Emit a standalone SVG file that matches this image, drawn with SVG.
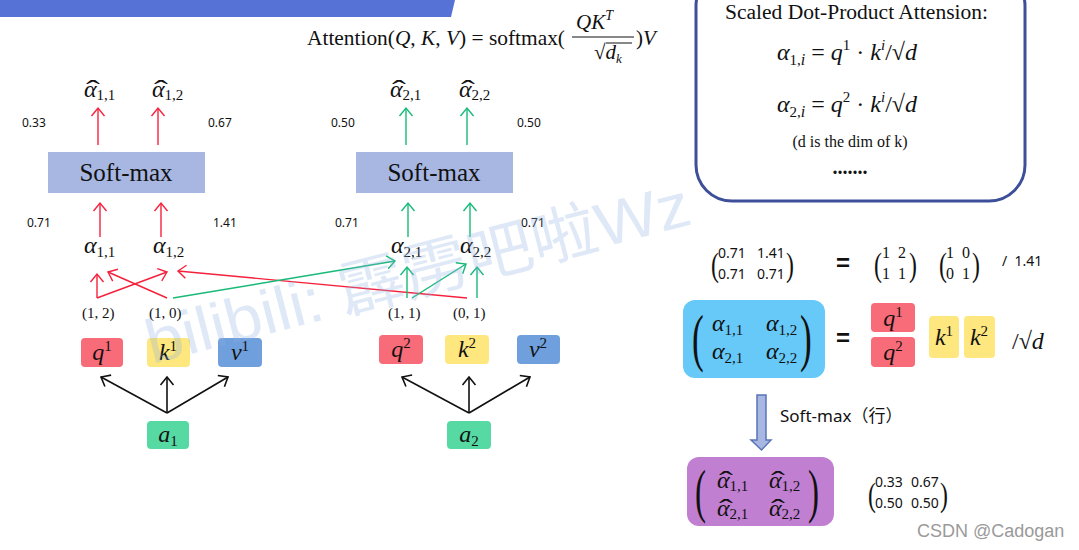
<svg xmlns="http://www.w3.org/2000/svg" width="1079" height="550" viewBox="0 0 1079 550">
<style>
.mi{font-family:"Liberation Serif","DejaVu Serif",serif;font-style:italic;font-size:24px;fill:#111}
.sub{font-style:normal;font-size:15px}
.sup{font-style:normal;font-size:15px}
.hat{font-family:"Liberation Serif","DejaVu Serif",serif;font-size:26px;fill:#111;text-anchor:middle}
.num{font-family:"Noto Sans","Liberation Sans",sans-serif;font-size:12px;fill:#111}
.tup{font-family:"Liberation Serif",serif;font-size:15px;fill:#111}
.r{stroke:#f5213c;stroke-width:1.4;fill:none}
.g{stroke:#17b978;stroke-width:1.4;fill:none}
.k{stroke:#111;stroke-width:1.6;fill:none}
.sm{fill:#a7b7e1}
.smt{font-family:"Liberation Serif",serif;font-size:25px;fill:#111;text-anchor:middle}
.q{fill:#f86b78}.kk{fill:#fde77e}.v{fill:#6fa0dd}.a{fill:#57d9a3}
.ser{font-family:"Liberation Serif",serif;fill:#111}
.mat{font-family:"Noto Sans","Liberation Sans",sans-serif;font-size:14px;fill:#111}
.par{font-family:"Liberation Serif",serif;fill:#111}
.sans{font-family:"Noto Sans","Liberation Sans","Noto Sans CJK SC",sans-serif}
.wm{font-family:"Liberation Sans","Noto Sans CJK SC",sans-serif}
</style>
<defs>
<marker id="ar" markerUnits="userSpaceOnUse" markerWidth="16" markerHeight="16" refX="9" refY="8" orient="auto"><path d="M1,1.5 L9,8 L1,14.5" fill="none" stroke="#f5213c" stroke-width="1.4"/></marker>
<marker id="ag" markerUnits="userSpaceOnUse" markerWidth="16" markerHeight="16" refX="9" refY="8" orient="auto"><path d="M1,1.5 L9,8 L1,14.5" fill="none" stroke="#17b978" stroke-width="1.4"/></marker>
<marker id="ak" markerUnits="userSpaceOnUse" markerWidth="16" markerHeight="16" refX="9" refY="8" orient="auto"><path d="M1,1.5 L9,8 L1,14.5" fill="none" stroke="#111" stroke-width="1.6"/></marker>
</defs>
<rect width="1079" height="550" fill="#ffffff"/>
<polygon points="0,0 455,0 451,17 0,17" fill="#5672d6"/>

<g id="formula">
<text class="ser" x="307" y="45" font-size="21" textLength="258" lengthAdjust="spacingAndGlyphs">Attention(<tspan font-style="italic">Q</tspan>, <tspan font-style="italic">K</tspan>, <tspan font-style="italic">V</tspan>) = softmax(</text>
<text class="ser" x="576" y="29" font-size="21" font-style="italic">QK<tspan font-size="14" font-style="italic" dy="-9">T</tspan></text>
<line x1="572" y1="37" x2="634" y2="37" stroke="#111" stroke-width="1"/>
<text class="ser" x="594" y="59" font-size="21">√<tspan font-style="italic">d</tspan><tspan font-size="13" font-style="italic" dy="4">k</tspan></text>
<line x1="606" y1="43" x2="632" y2="43" stroke="#111" stroke-width="1"/>
<text class="ser" x="636" y="45" font-size="21">)<tspan font-style="italic">V</tspan></text>
</g>

<g id="scaled-box">
<rect x="696" y="-30" width="329" height="231" rx="36" fill="#fff" stroke="#3d4f98" stroke-width="3"/>
<text class="ser" x="725" y="19" font-size="20" textLength="263" lengthAdjust="spacingAndGlyphs">Scaled Dot-Product Attension:</text>
<text class="mi" x="777" y="60" font-size="26">α<tspan class="sub" font-size="16" dy="5">1,</tspan><tspan font-size="16" font-style="italic">i</tspan><tspan dy="-5" font-style="normal"> = </tspan>q<tspan font-size="15" font-style="normal" dy="-10">1</tspan><tspan dy="10" font-style="normal"> · </tspan>k<tspan font-size="15" dy="-10">i</tspan><tspan dy="10" font-style="normal">/√</tspan>d</text>
<text class="mi" x="777" y="112" font-size="26">α<tspan class="sub" font-size="16" dy="5">2,</tspan><tspan font-size="16" font-style="italic">i</tspan><tspan dy="-5" font-style="normal"> = </tspan>q<tspan font-size="15" font-style="normal" dy="-10">2</tspan><tspan dy="10" font-style="normal"> · </tspan>k<tspan font-size="15" dy="-10">i</tspan><tspan dy="10" font-style="normal">/√</tspan>d</text>
<text class="ser" x="850" y="147" font-size="16" text-anchor="middle">(d is the dim of k)</text>
<text class="ser" x="850" y="174" font-size="20" text-anchor="middle" font-weight="bold">.......</text>
</g>

<g id="connectors">
<line class="r" x1="98" y1="145" x2="98" y2="108" marker-end="url(#ar)"/>
<line class="r" x1="158" y1="145" x2="158" y2="108" marker-end="url(#ar)"/>
<line class="g" x1="406" y1="145" x2="406" y2="108" marker-end="url(#ag)"/>
<line class="g" x1="467" y1="145" x2="467" y2="108" marker-end="url(#ag)"/>
<line class="r" x1="100" y1="237" x2="100" y2="203" marker-end="url(#ar)"/>
<line class="r" x1="161" y1="237" x2="161" y2="203" marker-end="url(#ar)"/>
<line class="g" x1="408" y1="237" x2="408" y2="203" marker-end="url(#ag)"/>
<line class="g" x1="470" y1="237" x2="470" y2="203" marker-end="url(#ag)"/>
<line class="r" x1="97" y1="298" x2="97" y2="274" marker-end="url(#ar)"/>
<line class="r" x1="97" y1="298" x2="167" y2="272" marker-end="url(#ar)"/>
<line class="r" x1="167" y1="298" x2="108" y2="272" marker-end="url(#ar)"/>
<line class="r" x1="467" y1="298" x2="178" y2="271" marker-end="url(#ar)"/>
<line class="g" x1="173" y1="298" x2="395" y2="261" marker-end="url(#ag)"/>
<line class="g" x1="407" y1="298" x2="407" y2="267" marker-end="url(#ag)"/>
<line class="g" x1="412" y1="298" x2="466" y2="264" marker-end="url(#ag)"/>
<line class="g" x1="477" y1="298" x2="477" y2="267" marker-end="url(#ag)"/>
<line class="k" x1="167" y1="413" x2="101" y2="377" marker-end="url(#ak)"/>
<line class="k" x1="167" y1="413" x2="167" y2="377" marker-end="url(#ak)"/>
<line class="k" x1="167" y1="413" x2="228" y2="377" marker-end="url(#ak)"/>
<line class="k" x1="469" y1="413" x2="402" y2="377" marker-end="url(#ak)"/>
<line class="k" x1="469" y1="413" x2="469" y2="377" marker-end="url(#ak)"/>
<line class="k" x1="469" y1="413" x2="530" y2="377" marker-end="url(#ak)"/>
</g>

<g id="hat-alpha-1">
<text class="mi" x="84" y="97">α<tspan class="sub" dy="3">1,1</tspan></text>
<text class="hat" transform="translate(93,98) scale(1.6,1)">ˆ</text>
<text class="mi" x="152" y="97">α<tspan class="sub" dy="3">1,2</tspan></text>
<text class="hat" transform="translate(161,98) scale(1.6,1)">ˆ</text>
<text class="num" x="22" y="127">0.33</text>
<text class="num" x="208" y="127">0.67</text>
</g>
<g id="hat-alpha-2">
<text class="mi" x="390" y="97">α<tspan class="sub" dy="3">2,1</tspan></text>
<text class="hat" transform="translate(399,98) scale(1.6,1)">ˆ</text>
<text class="mi" x="459" y="97">α<tspan class="sub" dy="3">2,2</tspan></text>
<text class="hat" transform="translate(468,98) scale(1.6,1)">ˆ</text>
<text class="num" x="331" y="127">0.50</text>
<text class="num" x="517" y="127">0.50</text>
</g>
<g id="softmax-1"><rect class="sm" x="48" y="152" width="157" height="41"/><text class="smt" x="126" y="181">Soft-max</text></g>
<g id="softmax-2"><rect class="sm" x="356" y="152" width="157" height="41"/><text class="smt" x="434" y="181">Soft-max</text></g>

<g id="alpha-1">
<text class="num" x="27" y="227">0.71</text>
<text class="num" x="213" y="227">1.41</text>
<text class="mi" x="84" y="253">α<tspan class="sub" dy="4">1,1</tspan></text>
<text class="mi" x="153" y="253">α<tspan class="sub" dy="4">1,2</tspan></text>
</g>
<g id="alpha-2">
<text class="num" x="335" y="227">0.71</text>
<text class="num" x="521" y="227">0.71</text>
<text class="mi" x="391" y="253">α<tspan class="sub" dy="4">2,1</tspan></text>
<text class="mi" x="460" y="253">α<tspan class="sub" dy="4">2,2</tspan></text>
</g>
<g id="tuples">
<text class="tup" x="82" y="318">(1, 2)</text>
<text class="tup" x="149" y="318">(1, 0)</text>
<text class="tup" x="388" y="318">(1, 1)</text>
<text class="tup" x="453" y="318">(0, 1)</text>
</g>

<g id="q1"><rect class="q" x="81" y="338" width="42" height="29" rx="4"/><text class="mi" x="102" y="360" text-anchor="middle">q<tspan class="sup" dy="-9">1</tspan></text></g>
<g id="k1"><rect class="kk" x="147" y="338" width="43" height="29" rx="4"/><text class="mi" x="168" y="360" text-anchor="middle">k<tspan class="sup" dy="-9">1</tspan></text></g>
<g id="v1"><rect class="v" x="218" y="338" width="44" height="29" rx="4"/><text class="mi" x="240" y="360" text-anchor="middle">v<tspan class="sup" dy="-9">1</tspan></text></g>
<g id="a1"><rect class="a" x="147" y="421" width="42" height="28" rx="4"/><text class="mi" x="168" y="442" text-anchor="middle">a<tspan class="sub" dy="4">1</tspan></text></g>
<g id="q2"><rect class="q" x="379" y="335" width="44" height="29" rx="4"/><text class="mi" x="401" y="357" text-anchor="middle">q<tspan class="sup" dy="-9">2</tspan></text></g>
<g id="k2"><rect class="kk" x="445" y="335" width="44" height="29" rx="4"/><text class="mi" x="467" y="357" text-anchor="middle">k<tspan class="sup" dy="-9">2</tspan></text></g>
<g id="v2"><rect class="v" x="517" y="335" width="43" height="29" rx="4"/><text class="mi" x="538" y="357" text-anchor="middle">v<tspan class="sup" dy="-9">2</tspan></text></g>
<g id="a2"><rect class="a" x="447" y="421" width="44" height="28" rx="4"/><text class="mi" x="469" y="442" text-anchor="middle">a<tspan class="sub" dy="4">2</tspan></text></g>

<g id="numeric-eq">
<text class="par" x="711" y="276" font-size="34" transform="translate(711,276) scale(0.7,1) translate(-711,-276)">(</text>
<text class="mat" x="718" y="258">0.71</text><text class="mat" x="757" y="258">1.41</text>
<text class="mat" x="718" y="279">0.71</text><text class="mat" x="757" y="279">0.71</text>
<text class="par" x="786" y="276" font-size="34" transform="translate(786,276) scale(0.7,1) translate(-786,-276)">)</text>
<text x="836" y="271" font-family="Liberation Sans" font-size="24" font-weight="bold" fill="#111">=</text>
<text class="par" x="874" y="276" font-size="34" transform="translate(874,276) scale(0.7,1) translate(-874,-276)">(</text>
<text class="ser" x="882" y="258" font-size="16">1</text><text class="ser" x="898" y="258" font-size="16">2</text>
<text class="ser" x="882" y="279" font-size="16">1</text><text class="ser" x="898" y="279" font-size="16">1</text>
<text class="par" x="909" y="276" font-size="34" transform="translate(909,276) scale(0.7,1) translate(-909,-276)">)</text>
<text class="par" x="939" y="276" font-size="34" transform="translate(939,276) scale(0.7,1) translate(-939,-276)">(</text>
<text class="ser" x="946" y="258" font-size="16">1</text><text class="ser" x="962" y="258" font-size="16">0</text>
<text class="ser" x="946" y="279" font-size="16">0</text><text class="ser" x="962" y="279" font-size="16">1</text>
<text class="par" x="972" y="276" font-size="34" transform="translate(972,276) scale(0.7,1) translate(-972,-276)">)</text>
<text class="mat" x="1002" y="266" font-size="14" xml:space="preserve">/  1.41</text>
</g>

<g id="alpha-matrix">
<rect x="683" y="300" width="142" height="78" rx="12" fill="#66c9f7"/>
<text class="par" x="692" y="359" font-size="64" transform="translate(692,359) scale(0.55,1) translate(-692,-359)">(</text>
<text class="mi" x="712" y="331">α<tspan class="sub" dy="4">1,1</tspan></text>
<text class="mi" x="766" y="331">α<tspan class="sub" dy="4">1,2</tspan></text>
<text class="mi" x="712" y="359">α<tspan class="sub" dy="4">2,1</tspan></text>
<text class="mi" x="766" y="359">α<tspan class="sub" dy="4">2,2</tspan></text>
<text class="par" x="800" y="359" font-size="64" transform="translate(800,359) scale(0.55,1) translate(-800,-359)">)</text>
</g>
<text x="836" y="346" font-family="Liberation Sans" font-size="24" font-weight="bold" fill="#111">=</text>
<g id="q-stack">
<rect class="q" x="871" y="303" width="44" height="29" rx="4"/><text class="mi" x="893" y="326" text-anchor="middle">q<tspan class="sup" dy="-9">1</tspan></text>
<rect class="q" x="871" y="337" width="44" height="30" rx="4"/><text class="mi" x="893" y="360" text-anchor="middle">q<tspan class="sup" dy="-9">2</tspan></text>
</g>
<g id="k-row">
<rect class="kk" x="929" y="316" width="30" height="42" rx="4"/><text class="mi" x="944" y="345" text-anchor="middle">k<tspan class="sup" dy="-9">1</tspan></text>
<rect class="kk" x="964" y="316" width="31" height="42" rx="4"/><text class="mi" x="979" y="345" text-anchor="middle">k<tspan class="sup" dy="-9">2</tspan></text>
</g>
<text class="mi" x="1012" y="349" font-size="26"><tspan font-style="normal">/√</tspan>d</text>

<g id="softmax-row-arrow">
<path d="M757,395 L766,395 L766,440 L771,440 L761.5,450 L751,440 L757,440 Z" fill="#a7b7e1" stroke="#5b74b8" stroke-width="1.5"/>
<text class="sans" x="780" y="422" font-size="17" fill="#111">Soft-max（行）</text>
</g>

<g id="hat-matrix">
<rect x="687" y="457" width="147" height="69" rx="12" fill="#c17fd2"/>
<text class="par" x="695" y="511" font-size="60" transform="translate(695,511) scale(0.55,1) translate(-695,-511)">(</text>
<text class="mi" x="717" y="488">α<tspan class="sub" dy="3">1,1</tspan></text>
<text class="hat" transform="translate(726,489) scale(1.6,1)">ˆ</text>
<text class="mi" x="769" y="488">α<tspan class="sub" dy="3">1,2</tspan></text>
<text class="hat" transform="translate(778,489) scale(1.6,1)">ˆ</text>
<text class="mi" x="717" y="516">α<tspan class="sub" dy="3">2,1</tspan></text>
<text class="hat" transform="translate(726,517) scale(1.6,1)">ˆ</text>
<text class="mi" x="769" y="516">α<tspan class="sub" dy="3">2,2</tspan></text>
<text class="hat" transform="translate(778,517) scale(1.6,1)">ˆ</text>
<text class="par" x="808" y="511" font-size="60" transform="translate(808,511) scale(0.55,1) translate(-808,-511)">)</text>
</g>
<g id="softmax-values">
<text class="par" x="868" y="506" font-size="34" transform="translate(868,506) scale(0.7,1) translate(-868,-506)">(</text>
<text class="mat" x="875" y="487">0.33</text><text class="mat" x="911" y="487">0.67</text>
<text class="mat" x="875" y="508">0.50</text><text class="mat" x="911" y="508">0.50</text>
<text class="par" x="940" y="506" font-size="34" transform="translate(940,506) scale(0.7,1) translate(-940,-506)">)</text>
</g>

<text class="wm" x="152" y="364" font-size="62" fill="#8fb0e2" opacity="0.28" textLength="560" lengthAdjust="spacingAndGlyphs" transform="rotate(-14.5 152 364)">bilibili: 霹雳吧啦Wz</text>
<text x="917" y="537" font-family="Liberation Sans, sans-serif" font-size="18" fill="#9a9a9a">CSDN @Cadogan</text>
</svg>
